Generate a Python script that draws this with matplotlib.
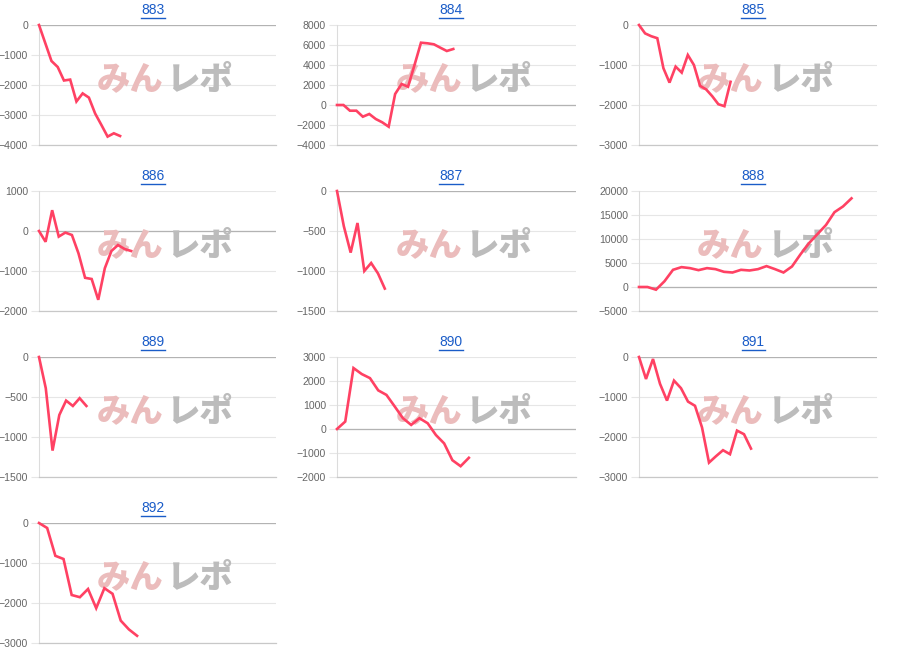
import matplotlib
matplotlib.use("Agg")
import matplotlib.pyplot as plt
from matplotlib.lines import Line2D

plt.rcParams["font.family"] = ["Liberation Sans", "DejaVu Sans"]

# machine numbers shown as panel titles
machines = ["883", "884", "885", "886", "887", "888", "889", "890", "891", "892"]

# cumulative difference per day
m883 = [0, -600, -1200, -1400, -1850, -1820, -2550, -2280, -2420, -2950, -3330, -3720, -3610, -3700]
m884 = [0, 0, -570, -570, -1170, -900, -1400, -1730, -2170, 1100, 2100, 1830, 4000, 6230, 6170, 6070, 5730, 5400, 5600]
m885 = [0, -210, -280, -330, -1080, -1440, -1040, -1190, -750, -1000, -1520, -1610, -1780, -1980, -2030, -1420]
m886 = [0, -270, 520, -140, -40, -100, -560, -1170, -1200, -1720, -930, -500, -350, -450, -500]
m887 = [0, -440, -770, -400, -1000, -900, -1030, -1220]
m888 = [0, 0, -560, 1200, 3580, 4140, 3930, 3510, 3930, 3720, 3160, 3020, 3580, 3440, 3720,
        4350, 3720, 3020, 4280, 6810, 9130, 11030, 12920, 15590, 16780, 18470]
m889 = [0, -390, -1170, -725, -545, -612, -515, -612]
m890 = [0, 310, 2540, 2290, 2120, 1610, 1420, 940, 450, 170, 450, 240, -250, -600, -1300, -1550, -1200]
m891 = [0, -550, -50, -670, -1090, -590, -780, -1115, -1220, -1760, -2640, -2480, -2330, -2430, -1840, -1930, -2290]
m892 = [0, -125, -820, -900, -1800, -1855, -1650, -2130, -1630, -1770, -2440, -2660, -2820]
series = [m883, m884, m885, m886, m887, m888, m889, m890, m891, m892]

# number of day slots on each x axis (minus one)
slots = [38, 37, 39, 36, 35, 28, 35, 29, 34, 29]

# y tick values per panel
yticks = [
    [-4000, -3000, -2000, -1000, 0],
    [-4000, -2000, 0, 2000, 4000, 6000, 8000],
    [-3000, -2000, -1000, 0],
    [-2000, -1000, 0, 1000],
    [-1500, -1000, -500, 0],
    [-5000, 0, 5000, 10000, 15000, 20000],
    [-1500, -1000, -500, 0],
    [-2000, -1000, 0, 1000, 2000, 3000],
    [-3000, -2000, -1000, 0],
    [-3000, -2000, -1000, 0],
]

W, H = 900, 664
col_x = [(39, 276), (337, 576), (639, 877)]
row_y = [(25, 145), (191, 311), (357, 477), (523, 643)]
title_y = [10, 176, 342, 508]
title_x = [153, 451, 753]

LINE = "#ff4163"
GRID = "#e6e6e6"
TICKC = "#666666"
BLUE = "#1a5cc8"

fig = plt.figure(figsize=(9, 6.64), dpi=100)

titles = []
for i, name in enumerate(machines):
    r, c = divmod(i, 3)
    x0, x1 = col_x[c]
    y0, y1 = row_y[r]
    ax = fig.add_axes([x0 / W, 1 - y1 / H, (x1 - x0) / W, (y1 - y0) / H])

    vals = series[i]
    ax.plot(range(len(vals)), vals, color=LINE, lw=1.9, zorder=3,
            solid_joinstyle="miter", clip_on=False)

    ax.set_xlim(0, slots[i])
    ax.set_ylim(yticks[i][0], yticks[i][-1])
    ax.set_yticks(yticks[i])
    ax.set_xticks([])
    ax.set_axisbelow(True)
    ax.grid(axis="y", color=GRID, lw=0.8)
    ax.axhline(0, color="#b3b3b3", lw=0.9, zorder=1)
    ax.tick_params(axis="y", length=6, width=0.8, color=GRID, pad=2,
                   labelsize=7.6, labelcolor=TICKC)
    for side in ["top", "right"]:
        ax.spines[side].set_visible(False)
    ax.spines["left"].set_color("#dcdcdc")
    ax.spines["left"].set_linewidth(0.8)
    ax.spines["bottom"].set_color("#c8c8c8")
    ax.spines["bottom"].set_linewidth(0.9)
    ax.patch.set_alpha(0)

    # watermark
    ax.text(0.525, 0.55, "みん", transform=ax.transAxes, ha="right", va="center",
            fontsize=24, fontweight="black", color="#ebbcbc",
            family=["Noto Sans CJK JP"], zorder=1.5)
    ax.text(0.54, 0.55, "レポ", transform=ax.transAxes, ha="left", va="center",
            fontsize=24, fontweight="black", color="#bcbcbc",
            family=["Noto Sans CJK JP"], zorder=1.5)

    t = fig.text(title_x[c] / W, 1 - title_y[r] / H, name, ha="center", va="center",
                 fontsize=10, color=BLUE)
    titles.append(t)

# underline the titles like links
fig.canvas.draw()
renderer = fig.canvas.get_renderer()
for t in titles:
    bb = t.get_window_extent(renderer)
    yl = bb.y0 - 0.5
    fig.add_artist(Line2D([bb.x0 / W, bb.x1 / W], [yl / H, yl / H],
                          transform=fig.transFigure, color=BLUE, lw=1.0))

fig.savefig("out.png", dpi=100)
